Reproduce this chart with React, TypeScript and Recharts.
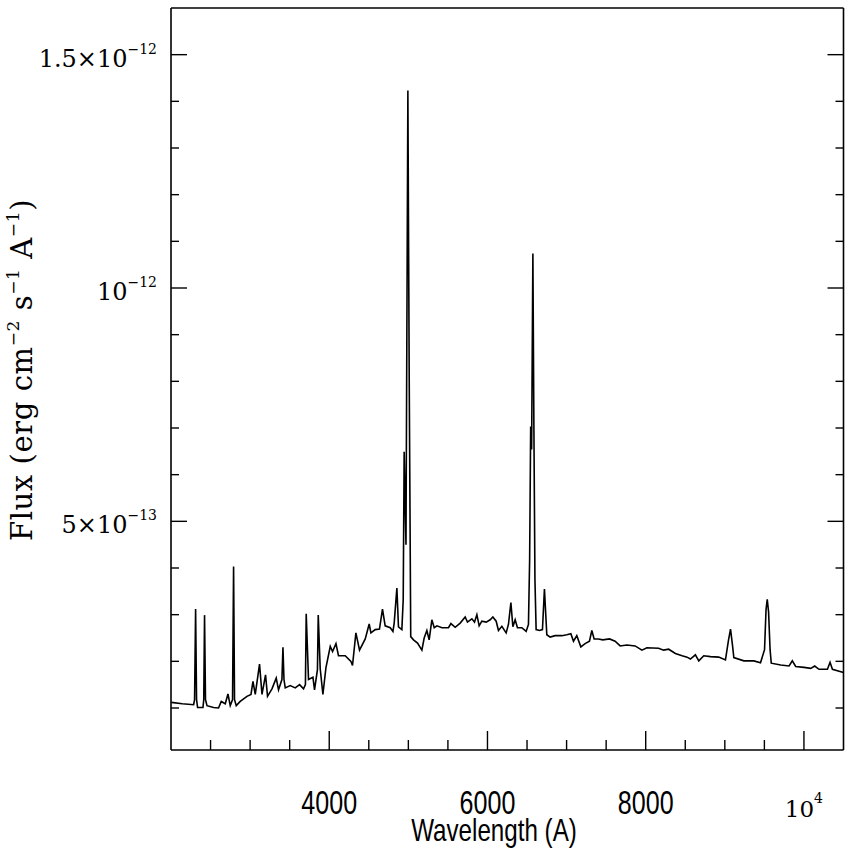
import React from 'react';
import { LineChart, Line, XAxis, YAxis } from 'recharts';

// Wavelength in Angstrom
const wavelength = [
  2004, 2143, 2286, 2298, 2311, 2323, 2336, 2404, 2414, 2424, 2436, 2455, 2538, 2601, 2635, 2686, 2720, 2749, 2778, 2791,
  2803, 2825, 2875, 2960, 3011, 3036, 3065, 3119, 3150, 3195, 3220, 3276, 3330, 3359, 3402, 3415, 3428, 3444, 3507, 3570,
  3625, 3675, 3699, 3709, 3738, 3794, 3814, 3851, 3861, 3886, 3920, 3958, 4013, 4042, 4085, 4117, 4202, 4274, 4294, 4337,
  4383, 4455, 4505, 4527, 4581, 4635, 4673, 4707, 4771, 4805, 4821, 4855, 4875, 4918, 4935, 4947, 4970, 4994, 5011, 5030,
  5065, 5116, 5171, 5200, 5234, 5263, 5297, 5327, 5361, 5424, 5507, 5538, 5592, 5655, 5718, 5747, 5803, 5836, 5866, 5895,
  5929, 5984, 6034, 6068, 6110, 6139, 6182, 6236, 6265, 6296, 6321, 6350, 6379, 6434, 6489, 6518, 6533, 6546, 6558, 6574,
  6587, 6600, 6615, 6657, 6695, 6720, 6750, 6792, 6855, 6940, 7003, 7054, 7087, 7129, 7180, 7234, 7289, 7319, 7348, 7402,
  7458, 7543, 7613, 7677, 7762, 7866, 7952, 8015, 8163, 8226, 8290, 8375, 8460, 8523, 8565, 8628, 8671, 8734, 8819, 8923,
  9008, 9047, 9072, 9096, 9114, 9241, 9367, 9451, 9502, 9521, 9536, 9553, 9572, 9587, 9706, 9812, 9853, 9896, 10001, 10086,
  10136, 10190, 10297, 10330, 10360, 10500,
];

// Flux in units of 1e-13 erg cm^-2 s^-1 A^-1
const flux = [
  1.12, 1.09, 1.07, 1.18, 3.12, 1.18, 1.01, 1.01, 1.18, 2.99, 1.18, 1.05, 1.01, 1.0, 1.14, 1.09, 1.3, 1.05, 1.18, 4.03,
  1.18, 1.05, 1.14, 1.25, 1.29, 1.57, 1.29, 1.94, 1.29, 1.71, 1.25, 1.41, 1.64, 1.39, 1.61, 2.3, 1.61, 1.43, 1.48, 1.43,
  1.5, 1.41, 1.5, 3.02, 1.61, 1.66, 1.39, 1.82, 2.99, 1.84, 1.29, 1.86, 2.32, 2.21, 2.38, 2.12, 2.12, 2.0, 1.91, 2.61,
  2.24, 2.48, 2.8, 2.61, 2.68, 2.69, 3.12, 2.76, 2.72, 2.64, 2.82, 3.57, 2.74, 2.68, 3.32, 6.49, 4.5, 14.23, 8.04, 2.53,
  2.46, 2.39, 2.24, 2.5, 2.66, 2.46, 2.89, 2.72, 2.76, 2.72, 2.72, 2.81, 2.73, 2.82, 2.95, 2.84, 2.91, 2.84, 3.0, 2.76,
  2.86, 2.84, 2.89, 2.95, 2.86, 2.66, 2.75, 2.61, 2.79, 3.26, 2.74, 2.89, 2.72, 2.72, 2.64, 2.79, 4.18, 7.03, 6.54, 10.74,
  6.97, 3.75, 2.68, 2.66, 2.68, 3.55, 2.57, 2.52, 2.55, 2.55, 2.57, 2.59, 2.43, 2.55, 2.31, 2.38, 2.43, 2.66, 2.48, 2.48,
  2.46, 2.48, 2.43, 2.33, 2.35, 2.33, 2.24, 2.29, 2.28, 2.24, 2.26, 2.17, 2.12, 2.09, 2.05, 2.14, 2.01, 2.12, 2.1, 2.09,
  2.03, 2.46, 2.69, 2.36, 2.08, 2.01, 2.01, 1.97, 2.25, 3.11, 3.33, 3.06, 2.25, 1.96, 1.92, 1.9, 2.01, 1.89, 1.87, 1.85,
  1.9, 1.83, 1.83, 1.98, 1.83, 1.76,
];

const xTicks = [2500, 3000, 3500, 4000, 4500, 5000, 5500, 6000, 6500, 7000, 7500, 8000, 8500, 9000, 9500, 10000];
const xMajor = [4000, 6000, 8000, 10000];
const yTicks = [1, 2, 3, 4, 5, 6, 7, 8, 9, 10, 11, 12, 13, 14, 15];
const yMajor = [5, 10, 15];
const yLabels: Record<number, [string, string]> = {
  15: ['1.5×10', '−12'],
  10: ['10', '−12'],
  5: ['5×10', '−13'],
};

const data = wavelength.map((w, i) => ({ w, f: flux[i] }));

const SERIF = 'DejaVu Serif';
const SANS = 'Liberation Sans';

const LeftTick = (props: any) => {
  const { x, y, payload } = props;
  const v = payload.value;
  const major = yMajor.includes(v);
  const lab = yLabels[v];
  return (
    <g>
      <line x1={x} x2={x + (major ? 16 : 8)} y1={y} y2={y} stroke="#000" strokeWidth={1.4} />
      {lab && (
        <text x={x - 14} y={y + 12} textAnchor="end" fontFamily={SERIF} fontSize={24} fill="#000">
          <tspan>{lab[0]}</tspan>
          <tspan dy={-13} fontSize={14}>{lab[1]}</tspan>
        </text>
      )}
    </g>
  );
};

const RightTick = (props: any) => {
  const { x, y, payload } = props;
  const major = yMajor.includes(payload.value);
  return <line x1={x} x2={x - (major ? 16 : 8)} y1={y} y2={y} stroke="#000" strokeWidth={1.4} />;
};

const BottomTick = (props: any) => {
  const { x, y, payload } = props;
  const v = payload.value;
  const major = xMajor.includes(v);
  let label: React.ReactNode = null;
  if (v === 10000) {
    label = (
      <text x={x} y={y + 67} textAnchor="middle" fontFamily={SERIF} fontSize={23} fill="#000">
        <tspan>10</tspan>
        <tspan dy={-14} fontSize={14}>4</tspan>
      </text>
    );
  } else if (major) {
    label = (
      <text
        transform={`translate(${x},${y + 64}) scale(0.76,1)`}
        textAnchor="middle"
        fontFamily={SANS}
        fontSize={33}
        fill="#000"
      >
        {String(v)}
      </text>
    );
  }
  return (
    <g>
      <line x1={x} x2={x} y1={y} y2={y - (major ? 19 : 10)} stroke="#000" strokeWidth={1.4} />
      {label}
    </g>
  );
};

const TopTick = (props: any) => {
  const { x, y, payload } = props;
  const major = xMajor.includes(payload.value);
  return <line x1={x} x2={x} y1={y} y2={y + (major ? 19 : 10)} stroke="#000" strokeWidth={1.4} />;
};

const axisLine = { stroke: '#000', strokeWidth: 1.6 };

export default function App() {
  return (
    <div style={{ position: 'absolute', left: 0, top: 0, width: 850, height: 850, background: '#fff' }}>
      <LineChart width={850} height={850} data={data} margin={{ top: 7, right: 5.5, bottom: 99, left: 170 }}>
        <XAxis
          xAxisId="b"
          dataKey="w"
          type="number"
          domain={[2000, 10500]}
          allowDataOverflow
          ticks={xTicks}
          interval={0}
          height={1}
          tickSize={0}
          tickMargin={0}
          tickLine={false}
          axisLine={axisLine}
          tick={<BottomTick />}
        />
        <XAxis
          xAxisId="t"
          orientation="top"
          type="number"
          domain={[2000, 10500]}
          allowDataOverflow
          ticks={xTicks}
          interval={0}
          height={1}
          tickSize={0}
          tickMargin={0}
          tickLine={false}
          axisLine={axisLine}
          tick={<TopTick />}
        />
        <YAxis
          yAxisId="l"
          type="number"
          domain={[0.1, 16]}
          allowDataOverflow
          ticks={yTicks}
          interval={0}
          width={1}
          tickSize={0}
          tickMargin={0}
          tickLine={false}
          axisLine={axisLine}
          tick={<LeftTick />}
        />
        <YAxis
          yAxisId="r"
          orientation="right"
          type="number"
          domain={[0.1, 16]}
          allowDataOverflow
          ticks={yTicks}
          interval={0}
          width={1}
          tickSize={0}
          tickMargin={0}
          tickLine={false}
          axisLine={axisLine}
          tick={<RightTick />}
        />
        <Line
          xAxisId="b"
          yAxisId="l"
          dataKey="f"
          type="linear"
          stroke="#000"
          strokeWidth={1.6}
          dot={false}
          activeDot={false}
          isAnimationActive={false}
        />
      </LineChart>
      <svg
        width={850}
        height={850}
        style={{ position: 'absolute', left: 0, top: 0, pointerEvents: 'none' }}
      >
        <text
          transform="translate(494,841) scale(0.78,1)"
          textAnchor="middle"
          fontFamily={SANS}
          fontSize={31}
          fill="#000"
        >
          Wavelength (A)
        </text>
        <text
          transform="translate(32,370) rotate(-90)"
          textAnchor="middle"
          fontFamily={SERIF}
          fontSize={29}
          letterSpacing={0.6}
          fill="#000"
        >
          <tspan>Flux (erg cm</tspan>
          <tspan dy={-13} fontSize={17}>−2</tspan>
          <tspan dy={13}> s</tspan>
          <tspan dy={-13} fontSize={17}>−1</tspan>
          <tspan dy={13}> A</tspan>
          <tspan dy={-13} fontSize={17}>−1</tspan>
          <tspan dy={13}>)</tspan>
        </text>
      </svg>
    </div>
  );
}
